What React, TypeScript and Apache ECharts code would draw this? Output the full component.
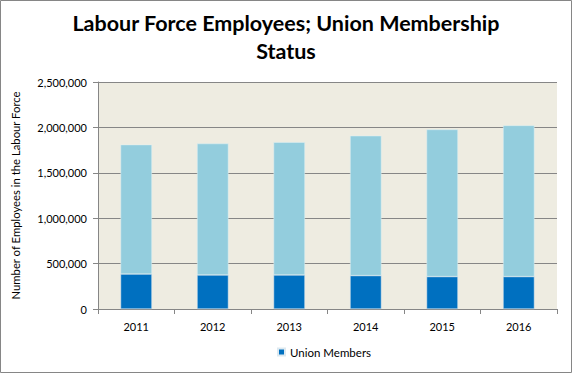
import React, { useEffect, useRef } from "react";
import * as echarts from "echarts";

const years = ["2011", "2012", "2013", "2014", "2015", "2016"];
const unionMembers = [385000, 375000, 375000, 368000, 357000, 357000];
const nonMembers = [1425000, 1447000, 1462000, 1540000, 1620000, 1665000];
const yTicks = [0, 500000, 1000000, 1500000, 2000000, 2500000];

export default function App() {
  const ref = useRef<HTMLDivElement>(null);
  useEffect(() => {
    if (!ref.current) return;
    const chart = echarts.init(ref.current, undefined, { renderer: "svg" });
    chart.setOption({
      animation: false,
      backgroundColor: "#ffffff",
      title: {
        text: "Labour Force Employees; Union Membership\nStatus",
        left: "center",
        top: 4,
        textStyle: {
          fontFamily: "Lato",
          fontWeight: "bold",
          fontSize: 21.5,
          lineHeight: 28,
          color: "#000",
        },
      },
      graphic: [
        {
          type: "rect",
          shape: { x: 0.5, y: 0.5, width: 571, height: 372 },
          style: { fill: "none", stroke: "#868686", lineWidth: 1 },
          z: 100,
        },
      ],
      legend: {
        data: ["Union Members"],
        bottom: 10,
        left: 272,
        itemWidth: 7,
        itemHeight: 7,
        itemGap: 4,
        icon: "rect",
        textStyle: { fontFamily: "Lato", fontSize: 11.5, color: "#000" },
      },
      grid: {
        left: 98,
        right: 15,
        top: 82,
        bottom: 64,
        show: true,
        backgroundColor: "#EEECE1",
        borderWidth: 0,
      },
      xAxis: {
        type: "category",
        data: years,
        axisLine: { lineStyle: { color: "#868686" } },
        axisTick: { show: true, length: 5, lineStyle: { color: "#868686" } },
        axisLabel: { fontFamily: "Lato", fontSize: 11, color: "#000", margin: 12 },
      },
      yAxis: {
        type: "value",
        min: yTicks[0],
        max: yTicks[yTicks.length - 1],
        interval: 500000,
        name: "Number of Employees in the Labour Force",
        nameLocation: "middle",
        nameGap: 77,
        nameTextStyle: { fontFamily: "Lato", fontSize: 11.3, color: "#000" },
        axisLine: { show: true, lineStyle: { color: "#868686" } },
        axisTick: { show: true, length: 5, lineStyle: { color: "#868686" } },
        axisLabel: {
          fontFamily: "Lato",
          fontSize: 11,
          color: "#000",
          margin: 11,
          formatter: (v: number) => v.toLocaleString("en-US"),
        },
        splitLine: { lineStyle: { color: "#868686", width: 1 } },
      },
      series: [
        {
          name: "Union Members",
          type: "bar",
          stack: "total",
          data: unionMembers,
          barWidth: "41%",
          itemStyle: { color: "#0070C0", borderColor: "#dde9f0", borderWidth: 0.5 },
        },
        {
          name: "Non-Members",
          type: "bar",
          stack: "total",
          data: nonMembers,
          barWidth: "41%",
          itemStyle: { color: "#93CDDD", borderColor: "#dff0f5", borderWidth: 0.5 },
        },
      ],
    });
    return () => chart.dispose();
  }, []);
  return (
    <div
      ref={ref}
      style={{ position: "fixed", left: 0, top: 0, width: 572, height: 373 }}
    />
  );
}
